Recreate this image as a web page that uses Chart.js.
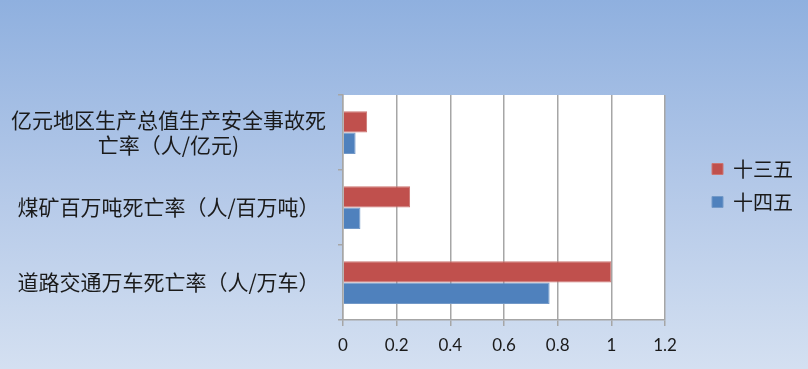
<!DOCTYPE html>
<html>
<head>
<meta charset="utf-8">
<script src="https://cdn.jsdelivr.net/npm/chart.js@4.4.0/dist/chart.umd.min.js"></script>
<style>
  html, body { margin: 0; padding: 0; }
  body {
    width: 808px;
    height: 369px;
    overflow: hidden;
    background: linear-gradient(to bottom, #8FB0DF 0%, #B3C8E8 50%, #D4E0F1 100%);
  }
</style>
</head>
<body>
<canvas id="chart" width="808" height="369"></canvas>
<script>
const categories = [
  ["亿元地区生产总值生产安全事故死", "亡率（人/亿元)"],
  "煤矿百万吨死亡率（人/百万吨）",
  "道路交通万车死亡率（人/万车）",
];
const seriesNames = ["十三五", "十四五"];
const values135 = [0.09, 0.25, 1.0];
const values145 = [0.047, 0.065, 0.77];
const xTickValues = [0, 0.2, 0.4, 0.6, 0.8, 1, 1.2];
const xTickLabels = ["0", "0.2", "0.4", "0.6", "0.8", "1", "1.2"];

const gridGray = "#A6A6A6";

const plotBackground = {
  id: "plotBackground",
  beforeDraw(chart) {
    const { ctx, chartArea } = chart;
    ctx.save();
    ctx.fillStyle = "#ffffff";
    ctx.fillRect(chartArea.left, chartArea.top, chartArea.right - chartArea.left, chartArea.bottom - chartArea.top);
    ctx.restore();
  },
};

new Chart(document.getElementById("chart"), {
  type: "bar",
  data: {
    labels: categories,
    datasets: [
      {
        label: seriesNames[0],
        data: values135,
        backgroundColor: "#C0504D",
        borderColor: "#CC7572",
        borderWidth: 1,
        xAxisID: "x",
        yAxisID: "y",
      },
      {
        label: seriesNames[1],
        data: values145,
        backgroundColor: "#4F81BD",
        borderColor: "#7399C8",
        borderWidth: 1,
        xAxisID: "x",
        yAxisID: "y",
      },
    ],
  },
  options: {
    indexAxis: "y",
    responsive: false,
    devicePixelRatio: 1,
    animation: false,
    categoryPercentage: 0.57,
    barPercentage: 1.0,
    layout: {
      padding: { top: 12, bottom: 10, left: 0, right: 5 },
    },
    scales: {
      x: {
        type: "linear",
        position: "bottom",
        min: 0,
        max: 1.2,
        afterBuildTicks: (scale) => {
          scale.ticks = xTickValues.map((v) => ({ value: v }));
        },
        afterFit: (scale) => {
          scale.height = 39;
        },
        ticks: {
          color: "#1a1a1a",
          padding: 9,
          font: { family: "Lato", size: 17 },
          callback: (value, index) => xTickLabels[index],
        },
        grid: {
          color: gridGray,
          lineWidth: 1.5,
          tickLength: 6,
        },
        border: { color: gridGray, width: 1.5 },
      },
      y: {
        type: "category",
        position: "left",
        offset: true,
        afterFit: (scale) => {
          scale.width = 343;
        },
        ticks: {
          color: "#1a1a1a",
          crossAlign: "center",
          padding: 12,
          font: { family: "'Noto Sans CJK SC'", size: 21, lineHeight: 1.2 },
        },
        grid: {
          offset: true,
          drawOnChartArea: false,
          color: gridGray,
          lineWidth: 1.5,
          tickLength: 5,
        },
        border: { color: gridGray, width: 1.5 },
      },
      // spacer between plot and legend
      gap: {
        type: "category",
        position: "right",
        display: true,
        ticks: { display: false },
        grid: { display: false },
        border: { display: false },
        afterFit: (scale) => {
          scale.width = 34;
        },
      },
    },
    plugins: {
      title: {
        display: true,
        text: "",
        padding: { top: 0, bottom: 71 },
        font: { size: 10, lineHeight: 1.2 },
      },
      legend: {
        position: "right",
        labels: {
          boxWidth: 11,
          boxHeight: 11,
          padding: 13,
          color: "#1a1a1a",
          font: { family: "'Noto Sans CJK SC'", size: 20 },
        },
      },
      tooltip: { enabled: false },
    },
  },
  plugins: [plotBackground],
});
</script>
</body>
</html>
